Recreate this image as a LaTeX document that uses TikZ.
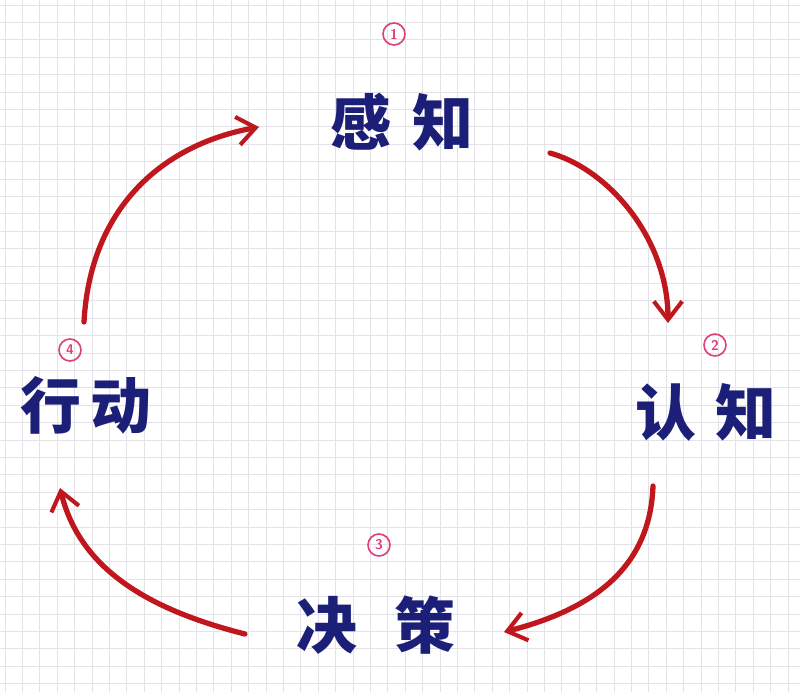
\documentclass[tikz,border=0pt]{standalone}
\usepackage{fontspec}
\newfontfamily\cjk{Noto Sans CJK SC}
\usetikzlibrary{arrows.meta}
\definecolor{gridc}{HTML}{E2E2E8}
\definecolor{ink}{HTML}{1C1F78}
\definecolor{pinkc}{HTML}{E0407A}
\definecolor{redc}{HTML}{C0161E}
\tikzset{
  lbl/.style={text=ink, font=\cjk\bfseries\fontsize{52}{60}\selectfont, inner sep=0pt},
  num/.style={draw=pinkc, text=pinkc, circle, line width=1.4pt, inner sep=1pt, minimum size=0.66cm, font=\sffamily\bfseries\fontsize{12}{13}\selectfont},
  flow/.style={draw=redc, line width=4.5pt, line cap=round, -{Straight Barb[length=0.55cm, width=0.85cm, line width=3.5pt]}}
}
\begin{document}
\begin{tikzpicture}[x=0.03cm, y=-0.03cm]
\useasboundingbox (0,0) rectangle (800,692);
\fill[white] (0,0) rectangle (800,692);
\foreach \i in {0,...,45} {
  \draw[gridc, line width=0.6pt] ({5+17.4*\i},0) -- ({5+17.4*\i},692);
}
\foreach \j in {0,...,39} {
  \draw[gridc, line width=0.6pt] (0,{5+17.4*\j}) -- (800,{5+17.4*\j});
}
% labels
\node[lbl] (ganzhi) at (402,122) {感\hspace{0.35em}知};
\node[lbl] (renzhi) at (706,412) {认\hspace{0.3em}知};
\node[lbl] (juece) at (376,625) {决\hspace{0.6em}策};
\node[lbl] (xingdong) at (86,405) {行\hspace{0.15em}动};
% numbers
\node[num] (n1) at (394,34) {1};
\node[num] (n2) at (715,345) {2};
\node[num] (n3) at (379,545) {3};
\node[num] (n4) at (70,350) {4};
% arrow endpoints
\coordinate (a1s) at (84,322);
\coordinate (a1e) at (259,127);
\coordinate (a2s) at (550,153);
\coordinate (a2e) at (668,323);
\coordinate (a3s) at (653,486);
\coordinate (a3e) at (504,632);
\coordinate (a4s) at (245,634);
\coordinate (a4e) at (60,488);
\draw[flow] (a1s) .. controls (90,210) and (160,145) .. (a1e);
\draw[flow] (a2s) .. controls (610,170) and (668,240) .. (a2e);
\draw[flow] (a3s) .. controls (650,570) and (590,610) .. (a3e);
\draw[flow] (a4s) .. controls (150,610) and (80,570) .. (a4e);
\end{tikzpicture}
\end{document}
